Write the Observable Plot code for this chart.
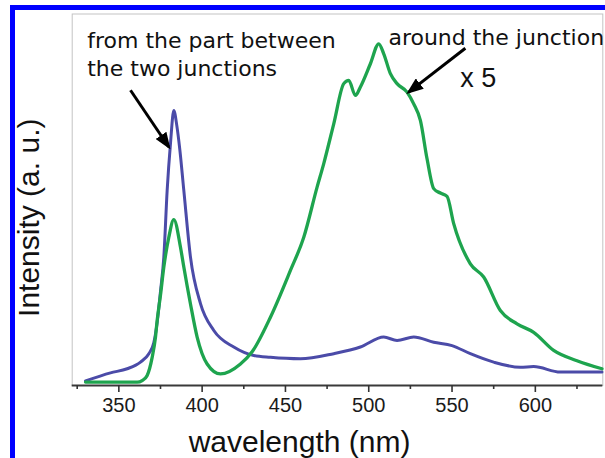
<!DOCTYPE html>
<html><head><meta charset="utf-8">
<script src="https://cdn.jsdelivr.net/npm/d3@7"></script>
<script src="https://cdn.jsdelivr.net/npm/@observablehq/plot@0.6"></script>
<style>
html,body{margin:0;padding:0;background:#fff;overflow:hidden;width:605px;height:458px;}
#wrap{position:relative;width:605px;height:458px;overflow:hidden;}
#chart{position:absolute;left:0;top:0;}
#border{position:absolute;left:10px;top:5px;width:700px;height:600px;border:5px solid #0000ff;pointer-events:none;}
</style></head><body><div id="wrap"><div id="chart"></div><div id="border"></div></div>
<script>
// Blue: "from the part between the two junctions"
const blueNm = [330, 345, 355, 363, 368, 371, 373, 375, 377, 379, 381, 383, 384.8, 386.6, 389, 393, 399, 407, 419, 431, 441, 459, 479, 495, 509, 517, 527, 539, 550, 561, 575, 591, 599, 615, 640];
const blueI  = [0.7, 2.9, 4.0, 5.8, 8.1, 11.1, 16.6, 25, 34.3, 52.4, 65.2, 74.1, 70, 63.5, 52.4, 34.3, 21.7, 14.4, 9.9, 7.6, 7.1, 6.7, 8.1, 9.9, 12.6, 11.7, 12.6, 11.2, 10.3, 8.1, 5.8, 4.4, 4.6, 3.1, 3.1];
// Green: "around the junction" (x 5)
const greenNm = [330, 361, 364, 367, 370, 372, 373, 375, 377, 380, 383, 387, 389, 393, 397, 403, 411, 423, 430, 441, 453, 461, 469, 473, 479, 485, 488, 492, 495, 501, 506, 509, 513, 517, 523, 527, 531, 535, 539, 543, 547, 551, 561, 569, 579, 589, 599, 611, 625, 640];
const greenI  = [0.4, 0.35, 0.8, 2.2, 7.1, 12.6, 17.1, 24, 31.6, 39.7, 44.5, 37.0, 31.6, 21.6, 12.6, 5.3, 2.6, 5.3, 8.6, 18.0, 30.7, 39.7, 53.3, 59.7, 70.5, 81.4, 82.3, 78.2, 80.5, 86.8, 92.2, 89.5, 84.1, 81.4, 79.1, 75.9, 71.4, 61.0, 52.9, 51.7, 50.8, 43.4, 32.5, 28.9, 19.8, 16.2, 13.9, 9.0, 6.2, 4.0];

const majorTicks = [350, 400, 450, 500, 550, 600];
const minorTicks = [325, 375, 425, 475, 525, 575, 625];
const xDomain = [322, 640.5];
const yDomain = [-0.54, 100.3];

const noteLabels = ["from the part between\nthe two junctions", "around the junction"];
const noteNm = [331.0, 511.8];
const noteI = [83.6, 92.0];
const factorLabel = ["x 5"];
const factorNm = [555.0];
const factorI = [80.4];
// arrows: from (nm, I) to (nm, I)
const arrowFromNm = [357.0, 558.0];
const arrowFromI = [79.6, 91.0];
const arrowToNm = [380.0, 524.0];
const arrowToI = [64.2, 79.1];

const blue = blueNm.map((x, i) => ({x, y: blueI[i]}));
const green = greenNm.map((x, i) => ({x, y: greenI[i]}));
const notes = noteLabels.map((t, i) => ({t, x: noteNm[i], y: noteI[i]}));
const factor = factorLabel.map((t, i) => ({t, x: factorNm[i], y: factorI[i]}));
const arrows = arrowFromNm.map((x1, i) => ({x1, y1: arrowFromI[i], x2: arrowToNm[i], y2: arrowToI[i]}));

const chart = Plot.plot({
  width: 605, height: 458,
  marginLeft: 71.7, marginTop: 13.5, marginRight: 2.7, marginBottom: 73,
  style: {fontFamily: "'Liberation Sans', Arial, sans-serif", background: "transparent", color: "#1a1a1a"},
  x: {domain: xDomain, axis: null},
  y: {domain: yDomain, axis: null},
  marks: [
    Plot.frame({stroke: "#c4c4c4", strokeWidth: 1}),
    Plot.ruleY([yDomain[0]], {stroke: "#3a3a3a", strokeWidth: 2}),
    Plot.axisX({ticks: majorTicks, tickSize: 7, tickPadding: 5, fontSize: 20, tickFormat: "d", label: null, strokeWidth: 1.6, stroke: "#333", fill: "#1a1a1a"}),
    Plot.axisX({ticks: minorTicks, tickSize: 4, text: null, label: null, strokeWidth: 1.6, stroke: "#333"}),
    Plot.line(blue, {x: "x", y: "y", stroke: "#4b4ba8", strokeWidth: 3, curve: "monotone-x"}),
    Plot.line(green, {x: "x", y: "y", stroke: "#1ea44e", strokeWidth: 3.3, curve: "monotone-x"}),
    Plot.link(arrows, {x1: "x1", y1: "y1", x2: "x2", y2: "y2", stroke: "black", strokeWidth: 3}),
    Plot.text(notes, {x: "x", y: "y", text: "t", textAnchor: "start", lineAnchor: "bottom", lineHeight: 1.23, fontSize: 22, fontFamily: "'DejaVu Sans', sans-serif", fill: "#111"}),
    Plot.text(factor, {x: "x", y: "y", text: "t", textAnchor: "start", lineAnchor: "bottom", fontSize: 27, fill: "#111"}),
    Plot.text(["wavelength (nm)"], {text: d => d, frameAnchor: "bottom", textAnchor: "middle", lineAnchor: "bottom", dx: -38, dy: 66.7, fontSize: 30, fill: "#111"}),
    Plot.text(["Intensity (a. u.)"], {text: d => d, frameAnchor: "left", textAnchor: "middle", lineAnchor: "middle", rotate: -90, dx: -42.7, dy: 18, fontSize: 30, fill: "#111"})
  ]
});

const s = d3.select(chart);
const defs = s.insert("defs", ":first-child");
defs.append("marker").attr("id", "ah").attr("viewBox", "0 0 17 13").attr("refX", 14).attr("refY", 6.5)
  .attr("markerWidth", 17).attr("markerHeight", 13).attr("markerUnits", "userSpaceOnUse").attr("orient", "auto")
  .append("path").attr("d", "M0,0L17,6.5L0,13Z").attr("fill", "black");
s.selectAll('g[aria-label="link"] path').attr("marker-end", "url(#ah)");

document.getElementById("chart").appendChild(chart);
</script>
</body></html>
